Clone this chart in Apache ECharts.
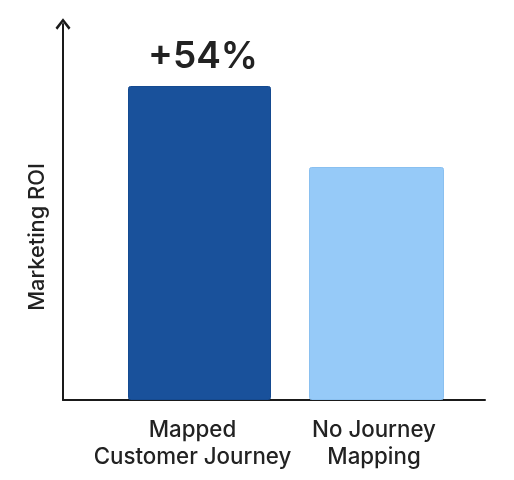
<!DOCTYPE HTML>
<html lang="en">
  <head>
    <meta charset="utf-8" />
    <script src="https://cdn.jsdelivr.net/npm/echarts@6/dist/echarts.min.js"></script>
    <style>
      html, body { height: 100%; padding: 0; margin: 0; background: #fff; }
      #chart { width: 514px; height: 480px; }
    </style>
  </head>
  <body>
    <div id="chart"></div>
    <script>
      var categories = ['Mapped\nCustomer Journey', 'No Journey\nMapping'];
      var mappedValues = [314, null];
      var unmappedValues = [null, 233];
      var yAxisName = 'Marketing ROI';
      var liftLabel = '+54%';
      var font = 'Inter';
      var axisColor = '#1a1a1a';
      var textColor = '#222';
      // open arrow head on the y axis
      var arrowPath = 'path://M7.5 0 L15 9.4 L13.2 11.4 L7.5 4 L1.8 11.4 L0 9.4 Z';

      var myChart = echarts.init(document.getElementById('chart'));

      // grid 0 only draws the long axis lines, grid 1 holds the bars
      // each bar has its own width, so each series gets its own category axis
      var option = {
        animation: false,
        grid: [
          { left: 63, right: 29, top: 24, bottom: 80 },
          { left: 111, right: 49, top: 74, bottom: 80 }
        ],
        xAxis: [
          {
            gridIndex: 0,
            type: 'category',
            data: [],
            axisTick: { show: false },
            axisLabel: { show: false },
            axisLine: { lineStyle: { color: axisColor, width: 2 } }
          },
          {
            gridIndex: 1,
            type: 'category',
            data: [
              { value: categories[0], textStyle: { padding: [0, 14, 0, 0] } },
              { value: categories[1], textStyle: { padding: [0, 5, 0, 0] } }
            ],
            axisTick: { show: false },
            axisLine: { show: false },
            axisLabel: {
              color: textColor,
              fontFamily: font,
              fontSize: 22.3,
              fontWeight: 500,
              lineHeight: 27,
              margin: 17,
              interval: 0
            }
          },
          {
            gridIndex: 1,
            type: 'category',
            data: categories,
            position: 'bottom',
            show: false
          }
        ],
        yAxis: [
          {
            gridIndex: 0,
            type: 'value',
            min: 0,
            max: 380,
            splitLine: { show: false },
            axisTick: { show: false },
            axisLabel: { show: false },
            axisLine: {
              show: true,
              symbol: ['none', arrowPath],
              symbolSize: [15, 12],
              lineStyle: { color: axisColor, width: 2 }
            }
          },
          {
            gridIndex: 1,
            type: 'value',
            min: 0,
            max: 326,
            name: yAxisName,
            nameLocation: 'middle',
            nameGap: 63,
            nameTextStyle: { color: textColor, fontFamily: font, fontSize: 21.8, fontWeight: 500 },
            splitLine: { show: false },
            axisTick: { show: false },
            axisLabel: { show: false },
            axisLine: { show: false }
          }
        ],
        series: [
          {
            type: 'bar',
            xAxisIndex: 1,
            yAxisIndex: 1,
            barWidth: 143,
            data: mappedValues,
            itemStyle: { color: '#19519b', borderColor: '#154a90', borderWidth: 1, borderRadius: 2 },
            label: {
              show: true,
              position: 'top',
              formatter: liftLabel,
              color: textColor,
              fontFamily: font,
              fontSize: 37,
              fontWeight: 600,
              distance: 11,
              offset: [3.5, 0]
            }
          },
          {
            type: 'bar',
            xAxisIndex: 2,
            yAxisIndex: 1,
            barWidth: 135,
            data: unmappedValues,
            itemStyle: { color: '#96caf8', borderColor: '#8ac0f0', borderWidth: 1, borderRadius: 2 }
          }
        ]
      };
      myChart.setOption(option);
    </script>
  </body>
</html>
